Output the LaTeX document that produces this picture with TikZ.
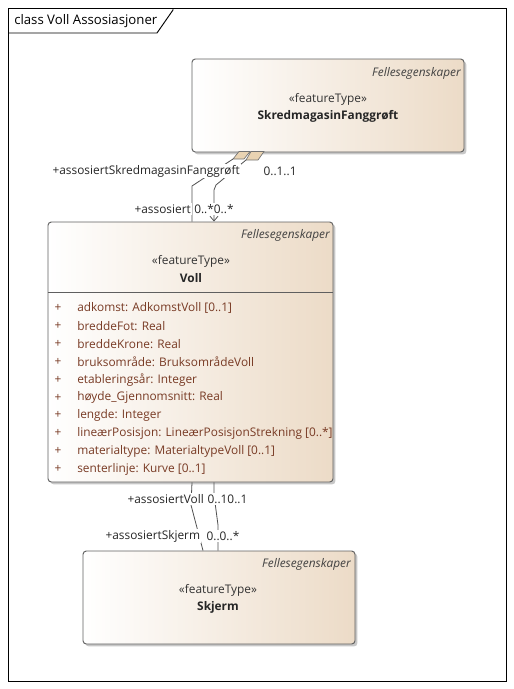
\documentclass[tikz,border=0pt]{standalone}
\usepackage{fontspec}
\setmainfont{Open Sans}
\usetikzlibrary{shadows,arrows.meta}
\definecolor{boxline}{RGB}{95,95,95}
\definecolor{boxtan}{RGB}{236,219,199}
\definecolor{attrtext}{RGB}{120,58,36}
\definecolor{diafill}{RGB}{233,211,178}
\definecolor{linegray}{RGB}{80,80,80}
\begin{document}
\begin{tikzpicture}[x=0.75pt,y=-0.75pt,
  font=\fontsize{8.9}{10}\selectfont,
  classbox/.style={draw=boxline, line width=0.7pt, rounded corners=2.5pt,
    left color=white, right color=boxtan, inner sep=0pt,
    drop shadow={shadow xshift=1.8pt, shadow yshift=-1.8pt, opacity=0.22, fill=black}},
  stereo/.style={text=black!80, inner sep=0pt},
  cname/.style={font=\fontsize{8.9}{10}\selectfont\bfseries, text=black!85, inner sep=0pt},
  pkg/.style={font=\fontsize{8.9}{10}\selectfont\itshape, text=black!75, inner sep=0pt, anchor=east},
  attr/.style={text=attrtext, inner sep=0pt, anchor=west},
  vis/.style={text=attrtext, inner sep=0pt},
  conn/.style={draw=linegray, line width=0.6pt},
  role/.style={fill=white, text=black!85, inner sep=1pt},
  agg/.style={draw=linegray!80, line width=0.5pt, fill=diafill}
]
\useasboundingbox (0,0) rectangle (514,689);

% diagram frame and its name tab
\draw[line width=0.7pt] (8,8) rectangle (506,681);
\draw[line width=0.7pt] (8,33) -- (157,33) -- (173,10) -- (173,8);
\node[anchor=west, inner sep=0pt, text=black, font=\fontsize{9.9}{11}\selectfont] (title) at (14,21.5) {class Voll Assosiasjoner};

% classes
\node[classbox, minimum width={272*0.75pt}, minimum height={93*0.75pt}] (skred) at (328,105.5) {};
\node[classbox, minimum width={285*0.75pt}, minimum height={260*0.75pt}] (voll) at (190.5,352) {};
\node[classbox, minimum width={272*0.75pt}, minimum height={93*0.75pt}] (skjerm) at (219,597.5) {};

% SkredmagasinFanggrøft
\node[pkg] (skredpkg) at (461,73) {Fellesegenskaper};
\node[stereo] (skredst) at (328,99) {«featureType»};
\node[cname] (skredname) at (328,116) {SkredmagasinFanggrøft};

% Voll
\node[pkg] (vollpkg) at (330,235) {Fellesegenskaper};
\node[stereo] (vollst) at (191,261) {«featureType»};
\node[cname] (vollname) at (191,278) {Voll};
\coordinate (sep) at (0,292);
\draw[draw=boxline, line width=0.7pt] (voll.west |- sep) -- (voll.east |- sep);

\foreach \i/\t in {0/{adkomst: AdkomstVoll [0..1]},
                   1/{breddeFot: Real},
                   2/{breddeKrone: Real},
                   3/{bruksområde: BruksområdeVoll},
                   4/{etableringsår: Integer},
                   5/{høyde\_Gjennomsnitt: Real},
                   6/{lengde: Integer},
                   7/{lineærPosisjon: LineærPosisjonStrekning [0..*]},
                   8/{materialtype: MaterialtypeVoll [0..1]},
                   9/{senterlinje: Kurve [0..1]}}{
  \node[vis] (vis\i) at (58,{308+17.9*\i}) {+};
  \node[attr] (att\i) at (77,{308+17.9*\i}) {\t};
}

% Skjerm
\node[pkg] (skjermpkg) at (351,564) {Fellesegenskaper};
\node[stereo] (skjermst) at (218,590) {«featureType»};
\node[cname] (skjermname) at (218,607) {Skjerm};

% aggregation ends on SkredmagasinFanggrøft
\draw[agg] (239,151.5) -- (250,151.5) -- (244,159) -- (233,159) -- cycle;
\draw[agg] (251,151.5) -- (264,151.5) -- (258,160) -- (246,160) -- cycle;
\coordinate (endA) at (233,159);
\coordinate (endB) at (246,160);

% associations SkredmagasinFanggrøft -- Voll
\draw[conn] (endA) -- (192,186) -- (voll.north -| 192,0);
\draw[conn, -{Straight Barb[length=3.5pt,width=6pt]}] (endB) -- (216,185) -- (214,190) -- (voll.north -| 214,0);

% associations Voll -- Skjerm
\draw[conn] (voll.south -| 192,0) -- (191,505) -- (skjerm.north -| 203,0);
\draw[conn] (voll.south -| 214,0) -- (214,495) -- (218,525) -- (skjerm.north -| 218,0);

% role names and multiplicities
\node[role, anchor=west] (r1) at (51,171) {+assosiertSkredmagasinFanggrøft};
\node[role, anchor=west] (m1) at (262,171) {0..1..1};
\node[role, anchor=west] (r2) at (133,209) {+assosiert};
\node[role, anchor=west, inner xsep=0pt] (m2) at (194,209) {0..*0..*};
\node[role, anchor=west] (r3) at (126,499) {+assosiertVoll};
\node[role, anchor=west] (m3) at (206,499) {0..10..1};
\node[role, anchor=west] (r4) at (104,536) {+assosiertSkjerm};
\node[role, anchor=west] (m4) at (205,536) {0..0..*};
\end{tikzpicture}
\end{document}
